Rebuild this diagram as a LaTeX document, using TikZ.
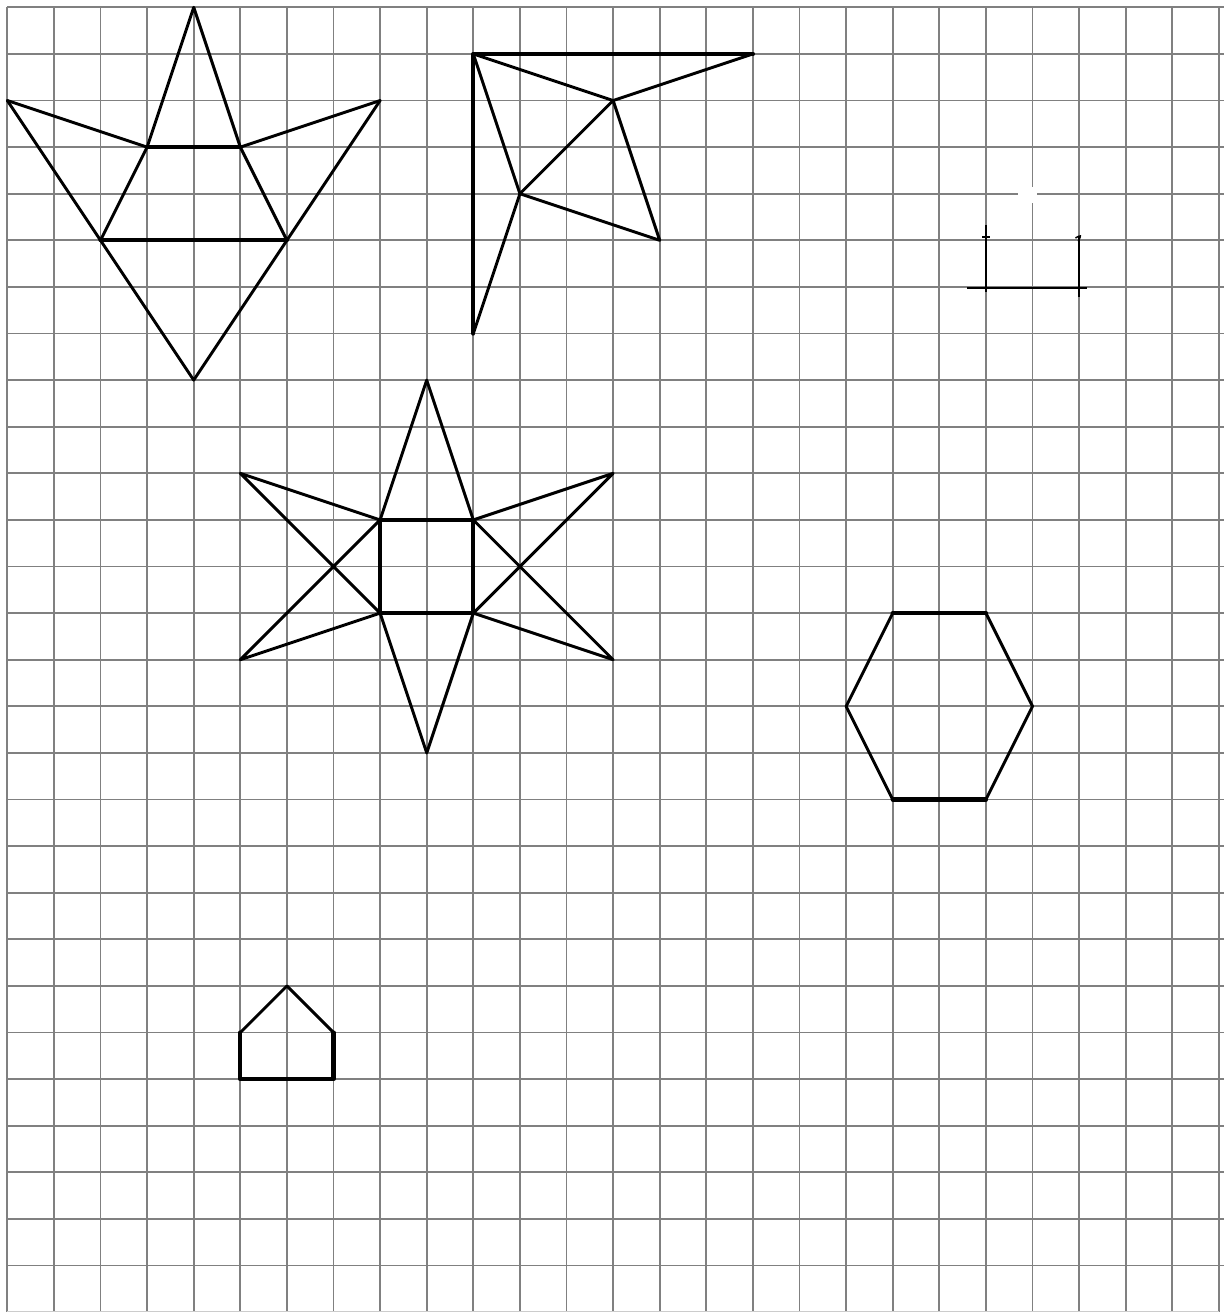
\documentclass[tikz,border=0pt]{standalone}
\begin{document}
\begin{tikzpicture}[x=1cm,y=-1cm,
  gridline/.style={draw=black!50,line width=1.1pt},
  fig/.style={draw=black,line width=1.8pt,line join=round,line cap=round},
  figthick/.style={draw=black,line width=2.6pt,line join=round,line cap=round},
  figthin/.style={draw=black,line width=0.9pt}]
\useasboundingbox[fill=white] (-0.157,-0.157) rectangle (26.217,27.997);
% grid
\foreach \i in {0,...,26} \draw[gridline] (\i,0) -- (\i,27.997);
\foreach \j in {0,...,27} \draw[gridline] (0,\j) -- (26.1,\j);
\draw[draw=black!20,line width=0.6pt] (0,27.98) -- (26,27.98);
\fill[white] (21.69,3.86) rectangle (22.1,4.2);
% figure 1
\coordinate (a) at (4,0); \coordinate (l) at (0,2); \coordinate (r) at (8,2);
\coordinate (p) at (3,3); \coordinate (q) at (5,3);
\coordinate (s) at (2,5); \coordinate (t) at (6,5); \coordinate (b) at (4,8);
\draw[fig] (p) -- (a) -- (q);
\draw[fig] (l) -- (p) -- (s); \draw[fig] (r) -- (q) -- (t);
\draw[fig] (l) -- (b) -- (r);
\draw[figthick] (p) -- (q); \draw[figthick] (s) -- (t);
% figure 2
\coordinate (c) at (10,1); \coordinate (e) at (16,1); \coordinate (f) at (10,7);
\coordinate (m) at (13,2); \coordinate (n) at (11,4); \coordinate (k) at (14,5);
\draw[figthick] (e) -- (c) -- (f);
\draw[fig] (c) -- (m) -- (e);
\draw[fig] (m) -- (k) -- (n) -- (m);
\draw[fig] (c) -- (n) -- (f);
% figure 3 star
\coordinate (s1) at (8,11); \coordinate (s2) at (10,11);
\coordinate (s3) at (10,13); \coordinate (s4) at (8,13);
\coordinate (st) at (9,8); \coordinate (sb) at (9,16);
\coordinate (lt) at (5,10); \coordinate (rt) at (13,10);
\coordinate (lb) at (5,14); \coordinate (rb) at (13,14);
\draw[fig] (s1) -- (st) -- (s2);
\draw[fig] (s4) -- (sb) -- (s3);
\draw[fig] (s1) -- (lt) -- (s4) -- (lb) -- (s1);
\draw[fig] (s2) -- (rt) -- (s3) -- (rb) -- (s2);
\draw[figthick] (s1) -- (s2) -- (s3) -- (s4) -- cycle;
% figure 4 hexagon
\coordinate (h1) at (19,13); \coordinate (h2) at (21,13); \coordinate (h3) at (22,15);
\coordinate (h4) at (21,17); \coordinate (h5) at (19,17); \coordinate (h6) at (18,15);
\draw[fig] (h2) -- (h3) -- (h4);
\draw[fig] (h5) -- (h6) -- (h1);
\draw[figthick] (h1) -- (h2); \draw[figthick] (h4) -- (h5);
% figure 5 house
\coordinate (ha) at (6,21); \coordinate (hl) at (5,22); \coordinate (hr) at (7,22);
\coordinate (hbl) at (5,23); \coordinate (hbr) at (7,23);
\draw[fig] (hl) -- (ha) -- (hr);
\draw[figthick] (hl) -- (hbl) -- (hbr) -- (hr);
% partial figure
\coordinate (u1) at (21,4.67); \coordinate (u2) at (21,6.11);
\coordinate (v1) at (23,4.93); \coordinate (v2) at (23,6.22);
\coordinate (w1) at (20.6,6.02); \coordinate (w2) at (23.17,6.02);
\draw[figthin] (u1) -- (u2); \draw[figthin] (v1) -- (v2); \draw[figthin] (w1) -- (w2);
\draw[figthin] (20.92,4.93) -- (21.08,4.93);
\draw[figthin] (22.92,4.95) .. controls (23.05,4.88) .. (22.98,5.02);
\end{tikzpicture}
\end{document}
